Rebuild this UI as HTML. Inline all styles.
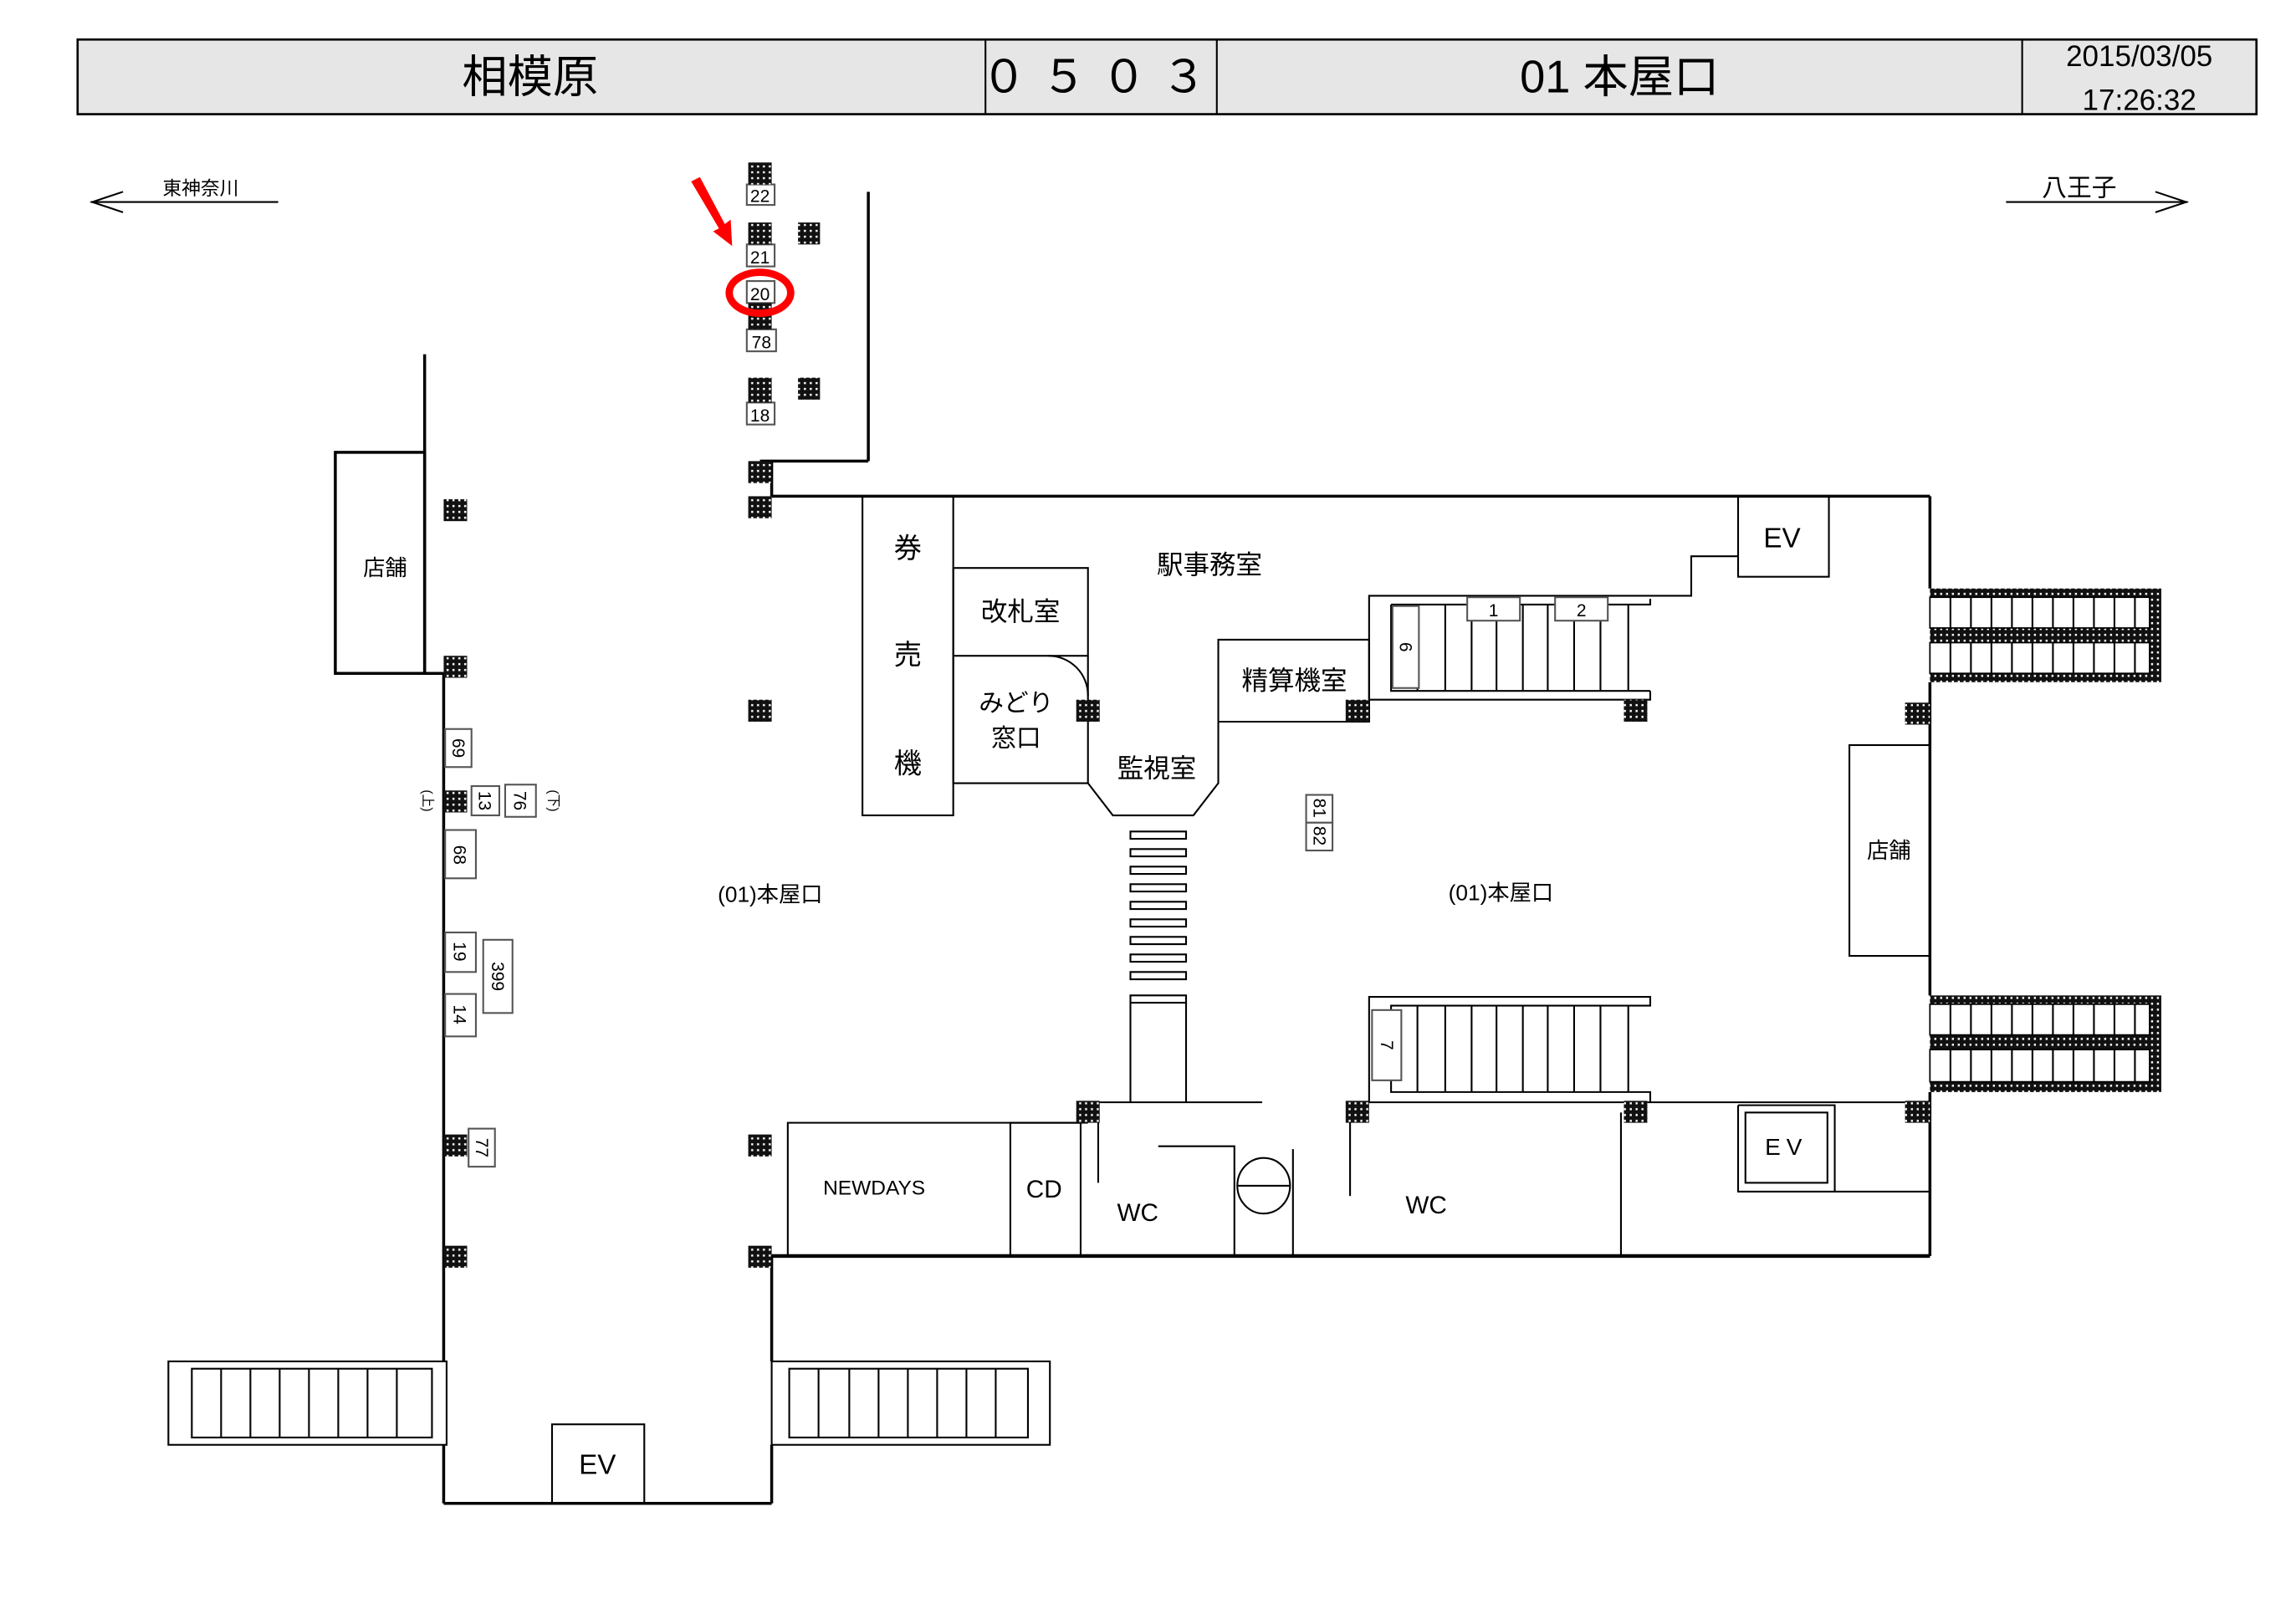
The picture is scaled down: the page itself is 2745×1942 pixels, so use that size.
<!DOCTYPE html>
<html><head><meta charset="utf-8"><style>html,body{margin:0;padding:0;background:#fff}svg{display:block}text{font-family:"Liberation Sans","Noto Sans CJK JP",sans-serif;fill:#000}</style></head><body>
<svg width="2745" height="1942" viewBox="0 0 1568 1109.4" preserveAspectRatio="none" xmlns="http://www.w3.org/2000/svg">
<defs>
<pattern id="d" width="4" height="4" patternUnits="userSpaceOnUse"><rect width="4" height="4" fill="#111"/><rect x="1" y="1" width="1.4" height="1.4" fill="#fff"/></pattern>
</defs>
<g fill="none" stroke="#000" stroke-width="1.2">
<rect x="53" y="27" width="1488" height="51" fill="#e6e6e6" stroke-width="1.5"/>
<line x1="673" y1="27" x2="673" y2="78"/><line x1="831" y1="27" x2="831" y2="78"/><line x1="1381" y1="27" x2="1381" y2="78"/>
<line x1="62" y1="138" x2="190" y2="138"/><polyline points="84,131 63,138 84,145"/>
<line x1="1370" y1="138" x2="1494" y2="138"/><polyline points="1472,131 1493,138 1472,145"/>
<line x1="290" y1="242" x2="290" y2="460" stroke-width="2"/>
<rect x="229" y="309" width="61" height="151" stroke-width="2"/>
<line x1="290" y1="460" x2="303" y2="460" stroke-width="2"/>
<line x1="303" y1="460" x2="303" y2="930" stroke-width="2"/>
<rect x="115" y="930" width="190" height="57"/>
<rect x="131" y="935" width="164" height="47"/>
<path d="M151 935V982M171 935V982M191 935V982M211 935V982M231 935V982M251 935V982M271 935V982"/>
<line x1="303" y1="987" x2="303" y2="1027" stroke-width="2"/>
<line x1="303" y1="1027" x2="527" y2="1027" stroke-width="2"/>
<rect x="377" y="973" width="63" height="54"/>
<line x1="527" y1="858" x2="527" y2="930" stroke-width="2"/>
<line x1="527" y1="987" x2="527" y2="1027" stroke-width="2"/>
<rect x="527" y="930" width="190" height="57"/>
<rect x="539" y="935" width="163" height="47"/>
<path d="M559 935V982M580 935V982M600 935V982M620 935V982M640 935V982M660 935V982M680 935V982"/>
<line x1="593" y1="131" x2="593" y2="315" stroke-width="2"/>
<line x1="519" y1="315" x2="593" y2="315" stroke-width="2"/>
<line x1="527" y1="315" x2="527" y2="339" stroke-width="2"/>
<line x1="527" y1="339" x2="1318" y2="339" stroke-width="2"/>
<line x1="1318" y1="339" x2="1318" y2="402" stroke-width="2"/>
<line x1="1318" y1="466" x2="1318" y2="680" stroke-width="2"/>
<line x1="1318" y1="746" x2="1318" y2="858" stroke-width="2"/>
<line x1="527" y1="858" x2="1318" y2="858" stroke-width="2.5"/>
<rect x="1318" y="402" width="158" height="64" fill="url(#d)" stroke="none"/>
<rect x="1318" y="408" width="150" height="21" fill="#fff" stroke-width="1"/>
<rect x="1318" y="439" width="150" height="21" fill="#fff" stroke-width="1"/>
<path d="M1332 408V429M1346 408V429M1360 408V429M1374 408V429M1388 408V429M1402 408V429M1416 408V429M1430 408V429M1444 408V429M1458 408V429"/>
<path d="M1332 439V460M1346 439V460M1360 439V460M1374 439V460M1388 439V460M1402 439V460M1416 439V460M1430 439V460M1444 439V460M1458 439V460"/>
<rect x="1318" y="680" width="158" height="66" fill="url(#d)" stroke="none"/>
<rect x="1318" y="686" width="150" height="21" fill="#fff" stroke-width="1"/>
<rect x="1318" y="717" width="150" height="22" fill="#fff" stroke-width="1"/>
<path d="M1332 686V707M1346 686V707M1360 686V707M1374 686V707M1388 686V707M1402 686V707M1416 686V707M1430 686V707M1444 686V707M1458 686V707"/>
<path d="M1332 717V739M1346 717V739M1360 717V739M1374 717V739M1388 717V739M1402 717V739M1416 717V739M1430 717V739M1444 717V739M1458 717V739"/>
<rect x="1263" y="509" width="55" height="144"/>
<rect x="589" y="339" width="62" height="218"/>
<rect x="651" y="388" width="92" height="60"/>
<path d="M651 448V535H743V448"/>
<path d="M716 448A27 27 0 0 1 743 475"/>
<path d="M743 535L760 557H815L832 535V437H935V493H832"/>
<path d="M935 493V407H1155V380H1187"/>
<rect x="1187" y="339" width="62" height="55"/>
<path d="M950 413H1127V409M950 413V472H1127"/>
<path d="M935 478H1127V472"/>
<path d="M968 413V472M987 413V472M1005 413V472M1022 413V472M1040 413V472M1057 413V472M1075 413V472M1093 413V472M1112 413V472"/>
<path d="M935 753V681H1127V687H950V746H1127V753"/>
<path d="M968 687V746M987 687V746M1005 687V746M1022 687V746M1040 687V746M1057 687V746M1075 687V746M1093 687V746M1112 687V746"/>
<path d="M772 568H810V573H772ZM772 580H810V585H772ZM772 592H810V597H772ZM772 604H810V609H772ZM772 616H810V621H772ZM772 628H810V633H772ZM772 640H810V645H772ZM772 652H810V657H772ZM772 664H810V669H772Z"/>
<path d="M772 680H810V685H772Z"/>
<path d="M772 685V753M810 685V753"/>
<line x1="743" y1="753" x2="862" y2="753"/>
<path d="M538 858V767H743"/>
<rect x="690" y="767" width="48" height="91"/>
<line x1="750" y1="760" x2="750" y2="808"/>
<path d="M791 783H843V858M883 785V858"/>
<ellipse cx="863" cy="810" rx="18" ry="19"/>
<line x1="845" y1="810" x2="881" y2="810"/>
<line x1="922" y1="760" x2="922" y2="817"/>
<line x1="922" y1="753" x2="1318" y2="753"/>
<line x1="1107" y1="760" x2="1107" y2="858"/>
<path d="M1187 755V814H1318M1187 755H1253V814"/>
<rect x="1192" y="760" width="56" height="48"/>
<g stroke="#555" fill="#fff">
<rect x="510" y="126" width="19" height="14"/><rect x="510" y="167" width="19" height="15"/><rect x="510" y="192" width="19" height="15"/><rect x="510" y="225" width="20" height="15"/><rect x="510" y="275" width="19" height="15"/>
<rect x="304" y="498" width="18" height="26"/><rect x="322" y="537" width="19" height="20"/><rect x="345" y="536" width="21" height="22"/><rect x="304" y="567" width="21" height="33"/><rect x="304" y="637" width="21" height="27"/><rect x="330" y="642" width="20" height="50"/><rect x="304" y="679" width="21" height="29"/><rect x="320" y="771" width="18" height="26"/>
<rect x="892" y="543" width="18" height="19"/><rect x="892" y="562" width="18" height="19"/>
<rect x="951" y="414" width="18" height="56"/><rect x="937" y="690" width="20" height="48"/>
<rect x="1002" y="408" width="36" height="16"/><rect x="1062" y="408" width="36" height="16"/>
</g>
</g>
<g fill="url(#d)">
<rect x="511" y="111" width="16" height="15"/><rect x="511" y="152" width="16" height="15"/><rect x="545" y="152" width="15" height="15"/><rect x="511" y="207" width="16" height="18"/><rect x="511" y="258" width="16" height="17"/><rect x="545" y="258" width="15" height="15"/><rect x="511" y="315" width="16" height="15"/><rect x="511" y="339" width="16" height="15"/>
<rect x="303" y="341" width="16" height="15"/><rect x="303" y="448" width="16" height="15"/><rect x="511" y="478" width="16" height="15"/><rect x="735" y="478" width="16" height="15"/><rect x="919" y="478" width="16" height="15"/><rect x="1109" y="478" width="16" height="15"/><rect x="1301" y="480" width="17" height="15"/>
<rect x="303" y="540" width="16" height="15"/><rect x="303" y="775" width="16" height="15"/><rect x="303" y="851" width="16" height="15"/><rect x="511" y="775" width="16" height="15"/><rect x="511" y="851" width="16" height="15"/>
<rect x="735" y="752" width="16" height="15"/><rect x="919" y="752" width="16" height="15"/><rect x="1109" y="752" width="16" height="15"/><rect x="1301" y="752" width="17" height="15"/>
</g>
<ellipse cx="519" cy="200" rx="21" ry="14" fill="none" stroke="#f00" stroke-width="5"/>
<path d="M472 124L478 121L495 153L499 150L500 168L487 158L491 156Z" fill="#f00"/>
<g text-anchor="middle">
<text x="362" y="63" font-size="31">相模原</text>
<text x="752" y="63" font-size="31" letter-spacing="10">０５０３</text>
<text x="1106" y="63" font-size="31">01 本屋口</text>
<text x="1461" y="45" font-size="20">2015/03/05</text>
<text x="1461" y="75" font-size="20">17:26:32</text>
<text x="137" y="133" font-size="13">東神奈川</text>
<text x="1420" y="134" font-size="17">八王子</text>
<text x="263" y="393" font-size="15">店舗</text>
<text x="1290" y="586" font-size="15">店舗</text>
<text x="620" y="381" font-size="19">券</text><text x="620" y="454" font-size="19">売</text><text x="620" y="528" font-size="19">機</text>
<text x="697" y="424" font-size="18">改札室</text>
<text x="694" y="486" font-size="17">みどり</text><text x="694" y="510" font-size="17">窓口</text>
<text x="790" y="531" font-size="18">監視室</text>
<text x="884" y="471" font-size="18">精算機室</text>
<text x="826" y="392" font-size="18">駅事務室</text>
<text x="1217" y="374" font-size="19">EV</text>
<text x="1220" y="789" font-size="16" letter-spacing="4">EV</text>
<text x="408" y="1007" font-size="19">EV</text>
<text x="526" y="616" font-size="15">(01)本屋口</text>
<text x="1025" y="615" font-size="15">(01)本屋口</text>
<text x="597" y="816" font-size="14">NEWDAYS</text>
<text x="713" y="818" font-size="17">CD</text>
<text x="777" y="834" font-size="17">WC</text>
<text x="974" y="829" font-size="17">WC</text>
<g font-size="12">
<text x="519" y="138">22</text><text x="519" y="180">21</text><text x="519" y="205">20</text><text x="520" y="238">78</text><text x="519" y="288">18</text>
<text x="1020" y="421">1</text><text x="1080" y="421">2</text>
</g>
<g font-size="12">
<text transform="translate(313,511) rotate(90)" y="4">69</text>
<text transform="translate(331,547) rotate(90)" y="4">13</text>
<text transform="translate(355,547) rotate(90)" y="4">76</text>
<text transform="translate(314,584) rotate(90)" y="4">68</text>
<text transform="translate(314,650) rotate(90)" y="4">19</text>
<text transform="translate(340,667) rotate(90)" y="4">399</text>
<text transform="translate(314,693) rotate(90)" y="4">14</text>
<text transform="translate(329,784) rotate(90)" y="4">77</text>
<text transform="translate(901,552) rotate(90)" y="4">81</text>
<text transform="translate(901,571) rotate(90)" y="4">82</text>
<text transform="translate(960,442) rotate(90)" y="4">6</text>
<text transform="translate(947,714) rotate(90)" y="4">7</text>
<text transform="translate(292,547) rotate(90)" y="3" font-size="9">(上)</text>
<text transform="translate(378,547) rotate(90)" y="3" font-size="9">(下)</text>
</g>
</g>
</svg>
</body></html>
